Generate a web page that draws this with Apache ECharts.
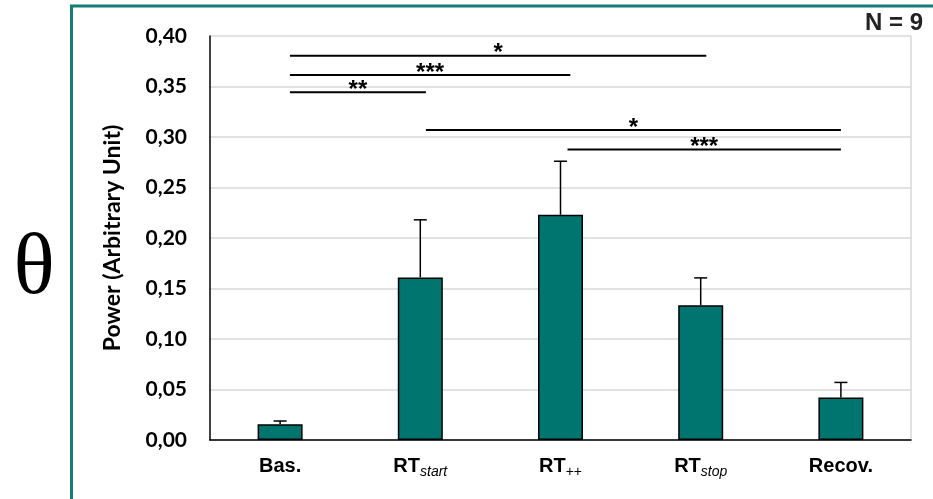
<!DOCTYPE html>
<html>
<head>
<meta charset="utf-8">
<script src="https://cdn.jsdelivr.net/npm/echarts@6/dist/echarts.min.js"></script>
<style>html,body{margin:0;padding:0;background:#fff}#c{width:933px;height:499px}</style>
</head>
<body>
<div id="c"></div>
<script>
// ---- data ----
const categories = ['{m|Bas.}', '{m|RT}{si|start}', '{m|RT}{s|++}', '{m|RT}{si|stop}', '{m|Recov.}'];
const means = [0.0155, 0.161, 0.223, 0.1335, 0.042];
const errors = [0.0033, 0.057, 0.053, 0.027, 0.015];
const yTicks = { min: 0, max: 0.40, interval: 0.05 };
// significance brackets: [from (category units), to, level]
const bracketFrom = [0.07, 0.07, 0.07, 1.04, 2.05];
const bracketTo = [3.04, 2.07, 1.04, 4.0, 4.0];
const bracketLevel = [0.3805, 0.3614, 0.3443, 0.3069, 0.2876];
const bracketLabel = ['*', '***', '**', '*', '***'];
const sampleText = 'N = 9';
const bandSymbol = 'θ';

const chart = echarts.init(document.getElementById('c'), null, { renderer: 'canvas' });

const option = {
  backgroundColor: '#fff',
  animation: false,
  grid: { left: 210, right: 22, top: 36, bottom: 59, containLabel: false },
  xAxis: [
    {
      type: 'category',
      data: categories,
      axisTick: { show: false },
      axisLine: { show: true, onZero: false, lineStyle: { color: '#000', width: 1.5 } },
      axisLabel: {
        margin: 19,
        interval: 0,
        rich: {
          m: { fontFamily: 'Liberation Sans', fontWeight: 'bold', fontSize: 20, color: '#000', lineHeight: 20, padding: [0, 0, 3, 0], verticalAlign: 'bottom' },
          si: { fontFamily: 'Liberation Sans', fontStyle: 'italic', fontSize: 14, color: '#000', lineHeight: 14, verticalAlign: 'bottom' },
          s: { fontFamily: 'Liberation Sans', fontSize: 14, color: '#000', lineHeight: 14, verticalAlign: 'bottom' }
        }
      }
    },
    { type: 'value', min: -0.5, max: 4.5, show: false, axisLine: { onZero: false } }
  ],
  yAxis: [
    {
      type: 'value',
      min: yTicks.min, max: yTicks.max, interval: yTicks.interval,
      name: 'Power (Arbitrary Unit)',
      nameLocation: 'middle',
      nameGap: 86,
      nameTextStyle: { fontFamily: 'Lato', fontWeight: 'bold', fontSize: 23, color: '#000' },
      axisLine: { show: true, onZero: false, lineStyle: { color: '#000', width: 1.5 } },
      axisTick: { show: false },
      axisLabel: {
        margin: 23,
        fontFamily: 'Lato', fontWeight: 'bold', fontSize: 21, color: '#000',
        formatter: v => v.toFixed(2).replace('.', ',')
      },
      splitLine: { show: true, lineStyle: { color: '#d9d9d9', width: 1.5 } }
    },
    {
      type: 'value', position: 'right',
      min: yTicks.min, max: yTicks.max, interval: yTicks.interval,
      axisLine: { show: true, onZero: false, lineStyle: { color: '#d9d9d9', width: 1.5 } },
      axisTick: { show: false }, axisLabel: { show: false }, splitLine: { show: false }
    }
  ],
  series: [
    {
      type: 'bar',
      data: means,
      barWidth: 45,
      itemStyle: { color: '#00756f', borderColor: '#000', borderWidth: 1.5 },
      z: 2
    },
    {
      type: 'custom',
      xAxisIndex: 0, yAxisIndex: 0,
      data: means.map((m, i) => [i, m, errors[i]]),
      encode: { x: 0, y: 1 },
      z: 3,
      renderItem: function (params, api) {
        const x = api.value(0), m = api.value(1), e = api.value(2);
        const p0 = api.coord([x, m]);
        const p1 = api.coord([x, m + e]);
        const st = { stroke: '#000', lineWidth: 1.5 };
        return {
          type: 'group',
          children: [
            { type: 'line', shape: { x1: p0[0], y1: p0[1], x2: p1[0], y2: p1[1] }, style: st },
            { type: 'line', shape: { x1: p1[0] - 6.5, y1: p1[1], x2: p1[0] + 6.5, y2: p1[1] }, style: st }
          ]
        };
      }
    },
    {
      type: 'custom',
      xAxisIndex: 1, yAxisIndex: 0,
      data: bracketFrom.map((f, i) => [f, bracketTo[i], bracketLevel[i]]),
      encode: { x: [0, 1], y: 2 },
      z: 4,
      renderItem: function (params, api) {
        const a = api.coord([api.value(0), api.value(2)]);
        const b = api.coord([api.value(1), api.value(2)]);
        return {
          type: 'group',
          children: [
            { type: 'line', shape: { x1: a[0], y1: a[1], x2: b[0], y2: b[1] }, style: { stroke: '#000', lineWidth: 2 } },
            {
              type: 'text',
              x: (a[0] + b[0]) / 2, y: a[1] - 2,
              style: {
                text: bracketLabel[params.dataIndex],
                fontFamily: 'Liberation Sans', fontWeight: 'bold', fontSize: 24,
                fill: '#000', align: 'center', verticalAlign: 'middle'
              }
            }
          ]
        };
      }
    }
  ],
  graphic: [
    {
      type: 'rect',
      shape: { x: 71.5, y: 6, width: 950, height: 600 },
      style: { fill: 'none', stroke: '#137c75', lineWidth: 3 },
      silent: true
    },
    {
      type: 'text', x: 923, y: 23,
      style: { text: sampleText, fontFamily: 'Liberation Sans', fontWeight: 'bold', fontSize: 24, fill: '#222', align: 'right', verticalAlign: 'middle' }
    },
    {
      type: 'text', x: 34, y: 270,
      style: { text: bandSymbol, fontFamily: 'Liberation Serif', fontSize: 86, fill: '#000', align: 'center', verticalAlign: 'middle' }
    }
  ]
};
chart.setOption(option);
</script>
</body>
</html>
